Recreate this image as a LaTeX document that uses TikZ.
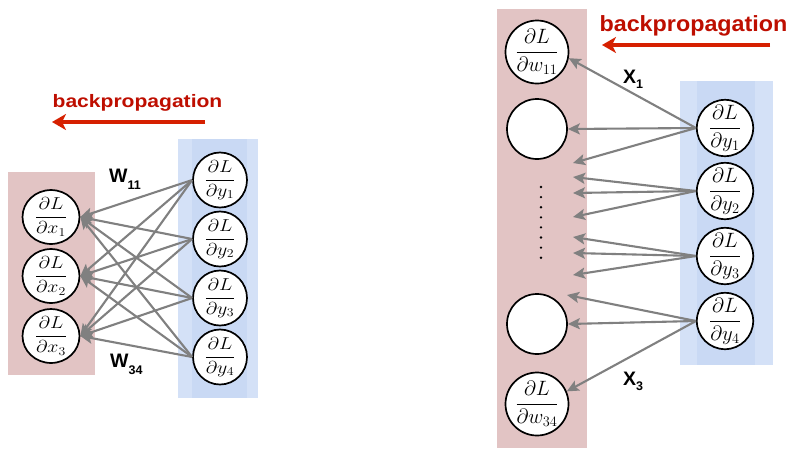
\documentclass[tikz,border=0pt]{standalone}
\usepackage{graphicx}
\usepackage{fontspec}
\setsansfont{Liberation Sans}
\usetikzlibrary{arrows.meta,shapes.geometric}
\definecolor{pinkbox}{RGB}{226,196,196}
\definecolor{blueout}{RGB}{212,225,247}
\definecolor{bluein}{RGB}{201,217,244}
\definecolor{edgegray}{RGB}{128,128,128}
\definecolor{bpred}{RGB}{190,14,0}
\definecolor{arrred}{RGB}{214,32,0}
\newcommand\pfrac[2]{$\displaystyle\frac{\partial #1}{\partial #2}$}
\begin{document}
\begin{tikzpicture}[x=1pt,y=-1pt,
  lnode/.style={ellipse,draw=black,line width=1.7pt,fill=white,minimum width=57pt,minimum height=45pt,inner sep=0pt,font=\fontsize{17}{19}\selectfont},
  lynode/.style={lnode,minimum width=54pt},
  rnode/.style={circle,draw=black,line width=1.7pt,fill=white,minimum size=60pt,inner sep=0pt,font=\fontsize{21}{23}\selectfont},
  rynode/.style={rnode,minimum size=56pt},
  edge/.style={draw=edgegray,line width=2.1pt,-{Stealth[length=12pt,width=11pt,inset=2.5pt]}},
  bparrow/.style={draw=arrred,line width=3.8pt,-{Stealth[length=14pt,width=16pt,inset=4pt]}},
  bplabel/.style={text=bpred,inner sep=0pt,anchor=base},
  wlabel/.style={font=\fontsize{19.5}{20}\selectfont\sffamily\bfseries,inner sep=0pt,anchor=base west},
]
\useasboundingbox (0,0) rectangle (790,448);
\fill[white] (0,0) rectangle (790,448);

% ---------- left panel ----------
\fill[pinkbox] (8,172) rectangle (95,375);
\fill[blueout] (178,139) rectangle (258,398);
\fill[bluein] (192,139) rectangle (247,398);

\node[lnode] (lx1) at (51,217) {\scalebox{1.15}[1]{\pfrac{L}{x_1}}};
\node[lnode] (lx2) at (51,276) {\scalebox{1.15}[1]{\pfrac{L}{x_2}}};
\node[lnode] (lx3) at (51,336) {\scalebox{1.15}[1]{\pfrac{L}{x_3}}};

\node[lynode] (ly1) at (220,180) {\scalebox{1.15}[1]{\pfrac{L}{y_1}}};
\node[lynode] (ly2) at (220,239) {\scalebox{1.15}[1]{\pfrac{L}{y_2}}};
\node[lynode] (ly3) at (220,298) {\scalebox{1.15}[1]{\pfrac{L}{y_3}}};
\node[lynode] (ly4) at (220,357) {\scalebox{1.15}[1]{\pfrac{L}{y_4}}};

\foreach \j in {1,2,3,4}{
  \foreach \i in {1,2,3}{
    \draw[edge] (ly\j.west) -- (lx\i.east);
  }
}

\node[wlabel] (w11) at (109,182) {W\raisebox{-7pt}{\fontsize{12.5}{13}\selectfont 11}};
\node[wlabel] (w34) at (110,367) {W\raisebox{-7pt}{\fontsize{12.5}{13}\selectfont 34}};

\node[bplabel] (bpl) at (137.5,107) {\fontsize{18}{20}\selectfont\sffamily\bfseries\scalebox{1.17}[1]{backpropagation}};
\coordinate (bplA) at (205,122);
\coordinate (bplB) at (52,122);
\draw[bparrow] (bplA) -- (bplB);

% ---------- right panel ----------
\fill[pinkbox] (497,9) rectangle (587,448);
\fill[blueout] (680,81) rectangle (773,365);
\fill[bluein] (697,81) rectangle (755,365);

\node[rnode] (w11n) at (537,52) {\pfrac{L}{w_{11}}};
\node[rnode] (n2) at (537,129) {};
\node[rnode] (n3) at (537,324) {};
\node[rnode] (w34n) at (537,404) {\pfrac{L}{w_{34}}};

\foreach \k in {0,...,7}{
  \fill[black] (541,{187+10.1*\k}) circle (1.3);
}

\node[rynode] (ry1) at (725,128) {\pfrac{L}{y_1}};
\node[rynode] (ry2) at (725,191) {\pfrac{L}{y_2}};
\node[rynode] (ry3) at (725,256) {\pfrac{L}{y_3}};
\node[rynode] (ry4) at (725,321) {\pfrac{L}{y_4}};

\coordinate (c1) at (573,163);
\coordinate (c2) at (573,177);
\coordinate (c3) at (573,193);
\coordinate (c4) at (573,217);
\coordinate (c5) at (573,237);
\coordinate (c6) at (573,253);
\coordinate (c7) at (573,275);
\coordinate (c8) at (567,295);

\draw[edge] (ry1.west) -- (w11n.-11);
\draw[edge] (ry1.west) -- (n2.east);
\draw[edge] (ry1.west) -- (c1);
\draw[edge] (ry2.west) -- (c2);
\draw[edge] (ry2.west) -- (c3);
\draw[edge] (ry2.west) -- (c4);
\draw[edge] (ry3.west) -- (c5);
\draw[edge] (ry3.west) -- (c6);
\draw[edge] (ry3.west) -- (c7);
\draw[edge] (ry4.west) -- (c8);
\draw[edge] (ry4.west) -- (n3.east);
\draw[edge] (ry4.west) -- (w34n.23);

\node[wlabel] (x1l) at (623,83) {X\raisebox{-5pt}{\fontsize{12.5}{13}\selectfont 1}};
\node[wlabel] (x3l) at (623,385) {X\raisebox{-5pt}{\fontsize{12.5}{13}\selectfont 3}};

\node[bplabel] (bpr) at (693.5,31) {\fontsize{22}{24}\selectfont\sffamily\bfseries\scalebox{1.06}[1]{backpropagation}};
\coordinate (bprA) at (770,45);
\coordinate (bprB) at (602,45);
\draw[bparrow] (bprA) -- (bprB);
\end{tikzpicture}
\end{document}
